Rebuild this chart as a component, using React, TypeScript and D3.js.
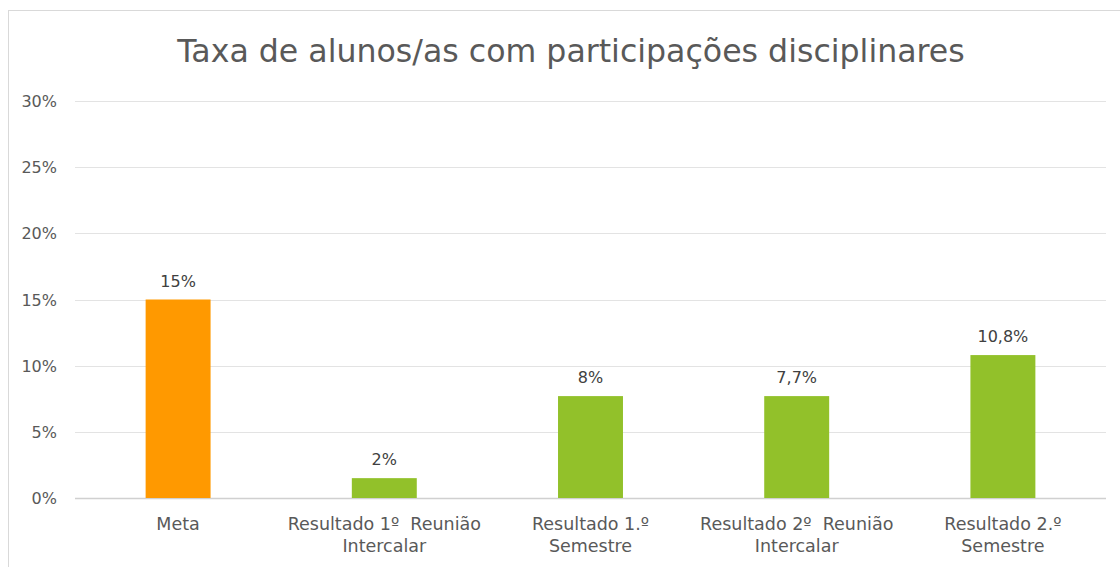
import React from "react";
import * as d3 from "d3";

const categories: string[][] = [
  ["Meta"],
  ["Resultado 1º  Reunião", "Intercalar"],
  ["Resultado 1.º", "Semestre"],
  ["Resultado 2º  Reunião", "Intercalar"],
  ["Resultado 2.º", "Semestre"],
];
const values: number[] = [15, 1.5, 7.7, 7.7, 10.8];
const valueLabels: string[] = ["15%", "2%", "8%", "7,7%", "10,8%"];
const barColors: string[] = ["#FF9900", "#92C12A", "#92C12A", "#92C12A", "#92C12A"];
const yTicks: number[] = [0, 5, 10, 15, 20, 25, 30];
const title = "Taxa de alunos/as com participações disciplinares";

const W = 1120;
const H = 567;
const plot = { left: 75, right: 1106, top: 101, bottom: 498 };
const FONT = "'DejaVu Sans', sans-serif";

export default function App() {
  const x = d3
    .scaleBand<number>()
    .domain(d3.range(categories.length))
    .range([plot.left, plot.right])
    .paddingInner(0.685)
    .paddingOuter(0.3425);
  const y = d3.scaleLinear().domain([0, 30]).range([plot.bottom, plot.top]);

  return (
    <svg
      width={W}
      height={H}
      style={{ position: "absolute", left: 0, top: 0, display: "block", background: "#fff" }}
    >
      <rect x={8.5} y={10.5} width={1130} height={600} fill="#fff" stroke="#d9d9d9" strokeWidth={1} />
      <text
        x={571}
        y={62}
        textAnchor="middle"
        fontFamily={FONT}
        fontSize={31.6}
        fill="#595959"
      >
        {title}
      </text>
      {yTicks.map((t) => (
        <g key={t}>
          <line
            x1={plot.left}
            x2={plot.right}
            y1={Math.round(y(t)) + 0.5}
            y2={Math.round(y(t)) + 0.5}
            stroke={t === 0 ? "#d0d0d0" : "#e3e3e3"}
            strokeWidth={t === 0 ? 1.5 : 1}
          />
          <text
            x={57}
            y={y(t) + 6}
            textAnchor="end"
            fontFamily={FONT}
            fontSize={16}
            fill="#595959"
          >
            {t + "%"}
          </text>
        </g>
      ))}
      {values.map((v, i) => (
        <g key={i}>
          <rect
            x={x(i)}
            y={y(v)}
            width={x.bandwidth()}
            height={y(0) - y(v)}
            fill={barColors[i]}
          />
          <text
            x={(x(i) as number) + x.bandwidth() / 2}
            y={y(v) - 13}
            textAnchor="middle"
            fontFamily={FONT}
            fontSize={16}
            fill="#404040"
          >
            {valueLabels[i]}
          </text>
          {categories[i].map((line, j) => (
            <text
              key={j}
              x={(x(i) as number) + x.bandwidth() / 2}
              y={530 + j * 22}
              textAnchor="middle"
              fontFamily={FONT}
              fontSize={17.5}
              fill="#595959"
              style={{ whiteSpace: "pre" }}
            >
              {line}
            </text>
          ))}
        </g>
      ))}
    </svg>
  );
}
